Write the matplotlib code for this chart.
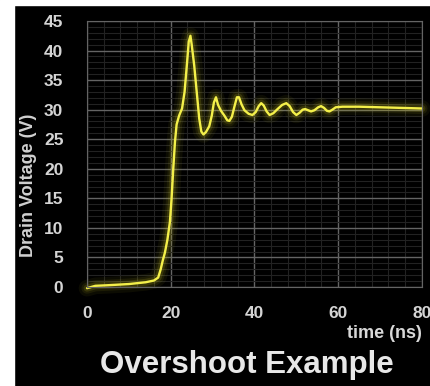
import matplotlib
matplotlib.use('Agg')
from matplotlib import pyplot as plt
from matplotlib.patches import Rectangle
from matplotlib.ticker import MultipleLocator

# values
time_ns = [0, 2, 5, 10, 14, 16, 17, 17.6, 18.1, 18.6, 19.2, 19.8, 20.2, 20.6,
           21.0, 21.4, 22.0, 22.7, 23.3, 23.9, 24.3, 24.7, 25.0, 25.6, 26.2,
           26.8, 27.3, 27.8, 28.4, 29.2, 29.8, 30.3, 30.8, 31.3, 32.0, 32.8,
           33.5, 34.0, 34.6, 35.2, 35.8, 36.3, 36.9, 37.6, 38.6, 39.5, 40.3,
           41.0, 41.6, 42.2, 42.9, 43.6, 44.5, 45.5, 46.6, 47.6, 48.4, 49.2,
           50.0, 50.8, 51.5, 52.1, 52.8, 53.5, 54.3, 55.2, 55.9, 56.6, 57.3,
           57.9, 58.6, 59.4, 61, 65, 70, 75, 80]
drain_v = [-0.2, 0.2, 0.3, 0.5, 0.8, 1.1, 1.6, 3.0, 4.5, 5.8, 8.0, 11.0, 15.0,
           20.0, 24.5, 27.5, 29.0, 30.2, 33.0, 38.0, 41.5, 42.5, 41.0, 37.5,
           33.0, 28.5, 26.3, 25.8, 26.2, 27.2, 29.0, 31.2, 32.1, 30.8, 29.8,
           29.0, 28.2, 28.1, 28.8, 30.5, 32.1, 32.1, 30.9, 29.9, 29.3, 29.1,
           29.6, 30.6, 31.1, 30.7, 29.7, 29.1, 29.4, 30.1, 30.8, 31.1, 30.6,
           29.6, 29.1, 29.5, 30.0, 30.1, 29.9, 29.7, 29.9, 30.4, 30.6, 30.3,
           29.8, 29.7, 30.0, 30.4, 30.5, 30.5, 30.4, 30.3, 30.2]

fig = plt.figure(figsize=(4.31, 3.86), dpi=100, facecolor='black')
# white frame strips on the left and top
fig.patches.append(Rectangle((0, 0), 14 / 431, 1, transform=fig.transFigure,
                             color='white', zorder=-5))
fig.patches.append(Rectangle((0, 1 - 5 / 386), 1, 5 / 386,
                             transform=fig.transFigure, color='white', zorder=-5))

ax = fig.add_axes([87 / 431, 99 / 386, 335 / 431, 266 / 386])
ax.set_facecolor('black')

# glow around the trace
for lw, a in [(12, 0.07), (8, 0.1), (5, 0.18)]:
    ax.plot(time_ns, drain_v, color='#b8b020', lw=lw, alpha=a,
            solid_capstyle='round', solid_joinstyle='round', clip_on=False)
ax.plot(time_ns, drain_v, color='#f4f04a', lw=1.7,
        solid_capstyle='round', solid_joinstyle='round', clip_on=False)

ax.set_xlim(0, 80)
ax.set_ylim(0, 45)
ax.xaxis.set_major_locator(MultipleLocator(20))
ax.xaxis.set_minor_locator(MultipleLocator(4))
ax.yaxis.set_major_locator(MultipleLocator(5))
ax.yaxis.set_minor_locator(MultipleLocator(1))
ax.grid(which='major', color='#646464', lw=1)
ax.grid(which='minor', color='#222222', lw=0.8)
ax.set_axisbelow(True)
for s in ax.spines.values():
    s.set_color('#646464')
ax.tick_params(which='both', length=0)
ax.tick_params(axis='y', pad=17)
ax.tick_params(axis='x', pad=14)
for lab in ax.get_xticklabels() + ax.get_yticklabels():
    lab.set_color('#d4d4d4')
    lab.set_fontweight('bold')
    lab.set_fontsize(12.5)
    lab.set_family('Liberation Sans')

fig.text(29 / 431, 1 - 185 / 386, 'Drain Voltage (V)', color='#d0d0d0',
         fontsize=13, fontweight='bold', family='Liberation Sans',
         rotation=90, ha='center', va='center')
fig.text(422 / 431, 1 - 334 / 386, 'time (ns)', color='#d8d8d8', fontsize=13,
         fontweight='bold', family='Liberation Sans', ha='right', va='center')
fig.text(247 / 431, 1 - 365 / 386, 'Overshoot Example', color='#e8e8e8',
         fontsize=22.5, fontweight='bold', family='Liberation Sans',
         ha='center', va='center')

plt.savefig('out.png', dpi=100, facecolor='black')
